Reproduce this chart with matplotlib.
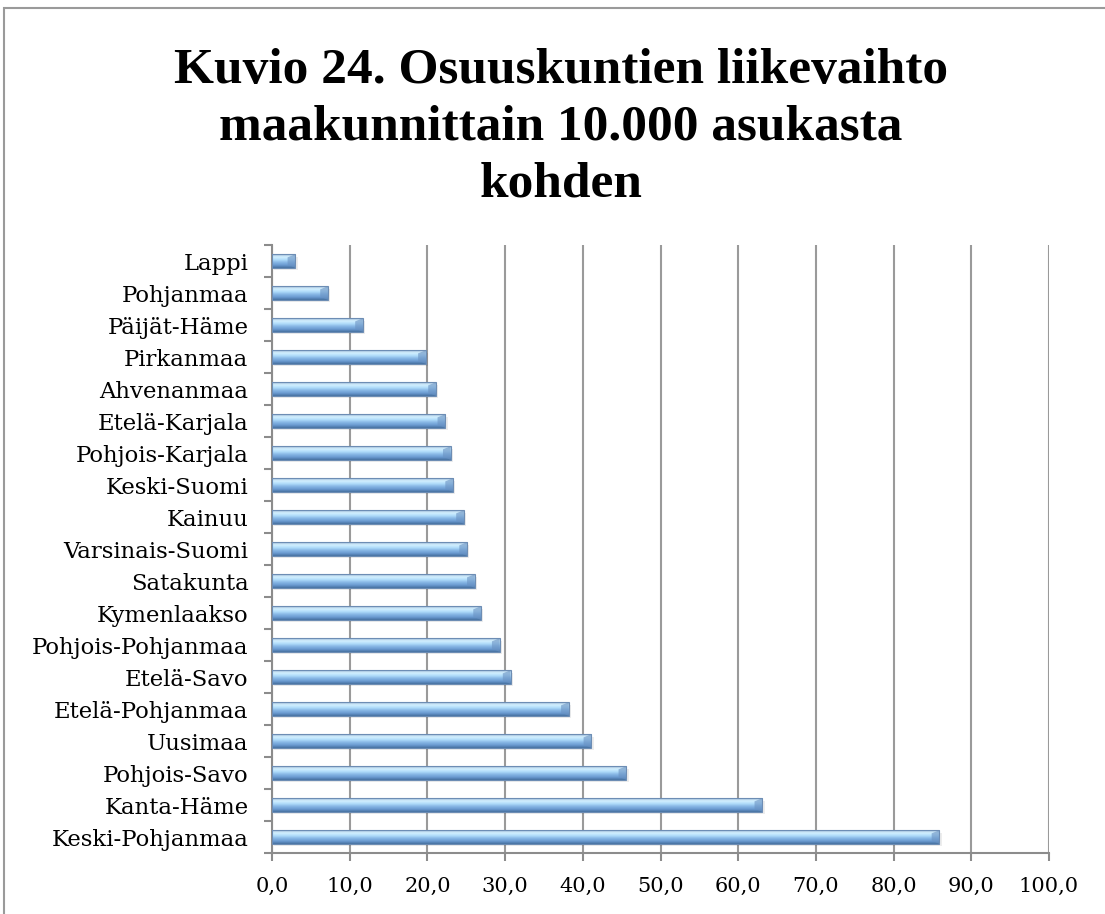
import numpy as np
import matplotlib
matplotlib.use("Agg")
import matplotlib.pyplot as plt
from matplotlib.colors import LinearSegmentedColormap
from matplotlib.patches import Rectangle

# ==========================
# Data (bottom -> top)
# ==========================
regions = [
    "Keski-Pohjanmaa", "Kanta-Häme", "Pohjois-Savo", "Uusimaa",
    "Etelä-Pohjanmaa", "Etelä-Savo", "Pohjois-Pohjanmaa", "Kymenlaakso",
    "Satakunta", "Varsinais-Suomi", "Kainuu", "Keski-Suomi",
    "Pohjois-Karjala", "Etelä-Karjala", "Ahvenanmaa", "Pirkanmaa",
    "Päijät-Häme", "Pohjanmaa", "Lappi",
]
values = [
    85.9, 63.1, 45.6, 41.1,
    38.2, 30.7, 29.3, 26.9,
    26.1, 25.1, 24.7, 23.3,
    23.0, 22.3, 21.1, 19.8,
    11.7, 7.2, 3.0,
]
x_ticks = [0, 10, 20, 30, 40, 50, 60, 70, 80, 90, 100]
title_lines = [
    "Kuvio 24. Osuuskuntien liikevaihto",
    "maakunnittain 10.000 asukasta",
    "kohden",
]

plt.rcParams["font.family"] = ["DejaVu Serif"]

fig = plt.figure(figsize=(11.05, 9.14), dpi=100)
ax = fig.add_axes([0.2462, 0.0667, 0.7031, 0.6652])

# gradient for the "3D" bars (top -> bottom)
bar_cmap = LinearSegmentedColormap.from_list(
    "bar", ["#9fb8d4", "#d3f0ff", "#b0dcfa", "#86b6e5", "#6a9ad0", "#46709f"]
)
grad = np.linspace(0, 1, 64).reshape(-1, 1)

h = 0.43
for i, v in enumerate(values):
    # soft shadow
    ax.add_patch(Rectangle((0.3, i - h / 2 - 0.08), v, h, facecolor="#000000",
                           alpha=0.07, edgecolor="none", zorder=2))
    ax.imshow(grad, extent=(0, v, i - h / 2, i + h / 2), aspect="auto",
              cmap=bar_cmap, origin="upper", zorder=3, interpolation="bilinear")
    # bevelled right end
    ax.fill([v - 1.0, v, v, v - 1.0], [i + h / 2 - 0.1, i + h / 2, i - h / 2, i - h / 2 + 0.1],
            color="#6a92c2", alpha=0.6, zorder=4, lw=0)

ax.barh(range(len(values)), values, height=h, facecolor="none",
        edgecolor="#6d8db4", linewidth=0.8, zorder=5)

ax.set_xlim(0, 100)
ax.set_ylim(-0.5, len(values) - 0.5)

ax.set_xticks(x_ticks)
ax.set_xticklabels([f"{t:.1f}".replace(".", ",") for t in x_ticks], fontsize=15)
ax.set_yticks(range(len(regions)))
ax.set_yticklabels(regions, fontsize=16.4)
ax.set_yticks(np.arange(-0.5, len(regions), 1), minor=True)

ax.tick_params(axis="y", which="major", length=0, pad=17)
ax.tick_params(axis="y", which="minor", length=6, width=1.5, color="#8c8c8c", direction="out")
ax.tick_params(axis="x", which="major", length=6, width=1.5, color="#8c8c8c", direction="out", pad=11)

ax.grid(axis="x", color="#9a9a9a", linewidth=1.5, zorder=0)
ax.set_axisbelow(True)

for s in ["top", "right"]:
    ax.spines[s].set_visible(False)
for s in ["left", "bottom"]:
    ax.spines[s].set_color("#8c8c8c")
    ax.spines[s].set_linewidth(1.5)

# title, one line at a time (baselines)
for line, yb in zip(title_lines, [0.9092, 0.8479, 0.7845]):
    fig.text(0.5077, yb, line, ha="center", va="baseline", fontsize=37,
             fontweight="bold", family=["Liberation Serif", "DejaVu Serif"])

# chart frame
fig.patches.append(Rectangle((0.0036, -0.05), 1.1, 0.9912 + 0.05, transform=fig.transFigure,
                             fill=False, edgecolor="#9a9a9a", linewidth=1.5))

plt.savefig("out.png", dpi=100)
